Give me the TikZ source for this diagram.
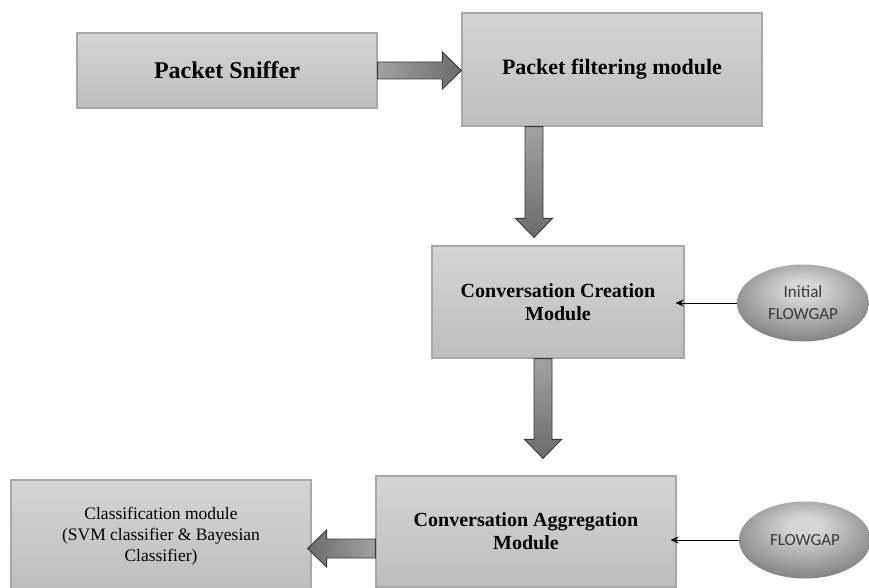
\documentclass[tikz,border=0pt]{standalone}
\usepackage{fontspec}
\setmainfont{Liberation Serif}
\newfontfamily\gapfont{Carlito}
\usetikzlibrary{calc,shapes.geometric,arrows.meta}

\definecolor{boxtop}{HTML}{D5D5D5}
\definecolor{boxbottom}{HTML}{BDBDBD}
\definecolor{boxline}{HTML}{A8A8A8}
\definecolor{arrowlight}{HTML}{A2A2A2}
\definecolor{arrowdark}{HTML}{6B6B6B}
\definecolor{arrowline}{HTML}{3A3A3A}
\definecolor{gaplight}{HTML}{D6D6D6}
\definecolor{gapdark}{HTML}{6E6E6E}
\definecolor{gaptext}{HTML}{3A3A3A}
\pgfdeclareradialshading{gapshade}{\pgfpoint{0bp}{10bp}}{color(0bp)=(gaplight); color(6bp)=(gaplight); color(36bp)=(gapdark); color(60bp)=(gapdark)}

\begin{document}
\begin{tikzpicture}[x=1pt, y=-1pt,
	module/.style={draw=boxline, line width=1.2pt, top color=boxtop, bottom color=boxbottom, align=center, inner sep=4pt, font=\bfseries\fontsize{20}{23}\selectfont},
	gap/.style={ellipse, shade, shading=gapshade, minimum width=132pt, minimum height=77pt, align=center, text=gaptext, font=\gapfont\fontsize{17}{22}\selectfont},
	blockarrow/.style={draw=arrowline, line width=0.9pt, line join=miter},
	feed/.style={-{Stealth[length=8pt, width=7pt]}, line width=1pt}]
	
	\useasboundingbox (0,0) rectangle (869,588);
	
	% ================= modules =================
	\node[module, minimum width=300pt, minimum height=75pt, font=\bfseries\fontsize{24}{28}\selectfont] (sniffer) at (227,70.5) {Packet Sniffer};
	\node[module, minimum width=300pt, minimum height=113pt, font=\bfseries\fontsize{22}{26}\selectfont] (filter) at (612,69.5) {Packet filtering module};
	\node[module, minimum width=252pt, minimum height=112pt] (creation) at (558,302) {Conversation Creation\\Module};
	\node[module, minimum width=300pt, minimum height=111pt] (aggregation) at (526,531.5) {Conversation Aggregation\\Module};
	\node[module, minimum width=300pt, minimum height=112pt, font=\fontsize{17.5}{21}\selectfont] (classify) at (161,536) {Classification module\\(SVM classifier \& Bayesian\\Classifier)};
	
	% ================= flowgap inputs =================
	\node[gap] (initgap) at (803,303) {Initial\\FLOWGAP};
	\node[gap] (flowgap) at (805,540) {FLOWGAP};
	
	\draw[feed, shorten >=-9pt] (initgap.west) -- (initgap.west -| creation.east);
	\draw[feed, shorten >=-6pt] (flowgap.west) -- (flowgap.west -| aggregation.east);
	
	% ================= block arrows (tail t, tip h) =================
	% sniffer -> filter
	\coordinate (t1) at (sniffer.east);
	\coordinate (h1) at (sniffer.east -| filter.west);
	\shadedraw[blockarrow, left color=arrowlight, right color=arrowdark]
		($(t1)+(0,-8.5)$) -- ($(h1)+(-19,-8.5)$) -- ($(h1)+(-19,-18.5)$) -- (h1)
		-- ($(h1)+(-19,18.5)$) -- ($(h1)+(-19,8.5)$) -- ($(t1)+(0,8.5)$) -- cycle;
	
	% filter -> creation
	\coordinate (t2) at ($(filter.south)+(-78,0)$);
	\coordinate (h2) at ($(t2 |- creation.north)+(0,-8)$);
	\shadedraw[blockarrow, top color=arrowlight, bottom color=arrowdark]
		($(t2)+(-9,0)$) -- ($(h2)+(-9,-19)$) -- ($(h2)+(-18.5,-19)$) -- (h2)
		-- ($(h2)+(18.5,-19)$) -- ($(h2)+(9,-19)$) -- ($(t2)+(9,0)$) -- cycle;
	
	% creation -> aggregation
	\coordinate (t3) at ($(creation.south)+(-15,0)$);
	\coordinate (h3) at ($(t3 |- aggregation.north)+(0,-17)$);
	\shadedraw[blockarrow, top color=arrowlight, bottom color=arrowdark]
		($(t3)+(-9,0)$) -- ($(h3)+(-9,-19)$) -- ($(h3)+(-18.5,-19)$) -- (h3)
		-- ($(h3)+(18.5,-19)$) -- ($(h3)+(9,-19)$) -- ($(t3)+(9,0)$) -- cycle;
	
	% aggregation -> classification
	\coordinate (t4) at ($(aggregation.west)+(0,17)$);
	\coordinate (h4) at ($(t4 -| classify.east)+(-4,0)$);
	\shadedraw[blockarrow, left color=arrowdark, right color=arrowlight]
		($(t4)+(0,-9.5)$) -- ($(h4)+(19,-9.5)$) -- ($(h4)+(19,-18.5)$) -- (h4)
		-- ($(h4)+(19,18.5)$) -- ($(h4)+(19,9.5)$) -- ($(t4)+(0,9.5)$) -- cycle;
	
\end{tikzpicture}
\end{document}
